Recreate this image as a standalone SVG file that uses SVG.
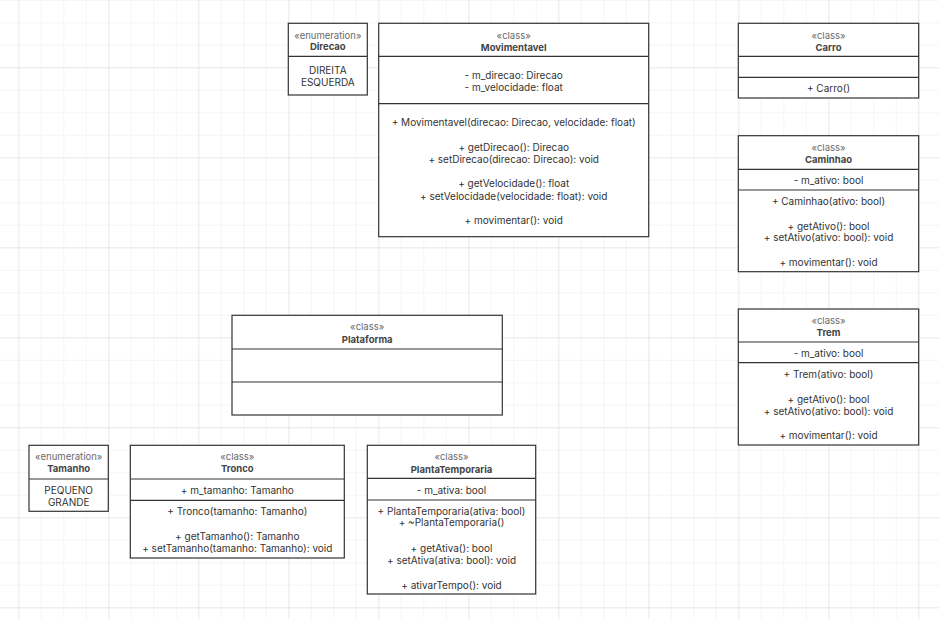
<svg xmlns="http://www.w3.org/2000/svg" width="939" height="619" viewBox="0 0 939 619">
<defs>
<pattern id="gmin" x="18.3" y="22.3" width="22.5" height="22.5" patternUnits="userSpaceOnUse">
<path d="M0 0V22.5M0 0H22.5" fill="none" stroke="#ececec" stroke-width="1"/>
</pattern>
<pattern id="gmaj" x="18.3" y="67.3" width="90" height="90" patternUnits="userSpaceOnUse">
<path d="M0 0V90M0 0H90" fill="none" stroke="#dedede" stroke-width="1"/>
</pattern>
</defs>
<style>
.box{fill:#fff;stroke:#333;stroke-width:1.2}
.div{stroke:#333;stroke-width:1.2}
text{font-family:Inter,"Liberation Sans",sans-serif;text-anchor:middle;dominant-baseline:central}
.st{font-size:9.5px;fill:#6a6a6a}
.nm{font-size:9.5px;font-weight:bold;fill:#444}
.tx{font-size:10px;fill:#333}
</style>
<rect width="939" height="619" fill="#fff"/>
<rect width="939" height="619" fill="url(#gmin)"/>
<rect width="939" height="619" fill="url(#gmaj)"/>

<g id="connectors"></g>

<g id="Direcao">
<rect class="box" x="288.3" y="23.3" width="79" height="71.7"/>
<line class="div" x1="288.3" y1="56.3" x2="367.3" y2="56.3"/>
<text class="st" x="327.8" y="35">«enumeration»</text>
<text class="nm" x="327.8" y="46.7">Direcao</text>
<text class="tx" x="327.8" y="69.5">DIREITA</text>
<text class="tx" x="327.8" y="81.8">ESQUERDA</text>
</g>

<g id="Movimentavel">
<rect class="box" x="378.7" y="23.3" width="270" height="213.4"/>
<line class="div" x1="378.7" y1="56.3" x2="648.7" y2="56.3"/>
<line class="div" x1="378.7" y1="103.7" x2="648.7" y2="103.7"/>
<text class="st" x="513.7" y="35">«class»</text>
<text class="nm" x="513.7" y="47">Movimentavel</text>
<text class="tx" x="513.7" y="74.5">- m_direcao: Direcao</text>
<text class="tx" x="513.7" y="86.5">- m_velocidade: float</text>
<text class="tx" x="513.7" y="122.3">+ Movimentavel(direcao: Direcao, velocidade: float)</text>
<text class="tx" x="513.7" y="146.7">+ getDirecao(): Direcao</text>
<text class="tx" x="513.7" y="159">+ setDirecao(direcao: Direcao): void</text>
<text class="tx" x="513.7" y="183">+ getVelocidade(): float</text>
<text class="tx" x="513.7" y="195.5">+ setVelocidade(velocidade: float): void</text>
<text class="tx" x="513.7" y="219.5">+ movimentar(): void</text>
</g>

<g id="Carro">
<rect class="box" x="738.3" y="23.3" width="180.4" height="74.7"/>
<line class="div" x1="738.3" y1="56.3" x2="918.7" y2="56.3"/>
<line class="div" x1="738.3" y1="77.3" x2="918.7" y2="77.3"/>
<text class="st" x="828.5" y="35">«class»</text>
<text class="nm" x="828.5" y="47">Carro</text>
<text class="tx" x="828.5" y="88">+ Carro()</text>
</g>

<g id="Caminhao">
<rect class="box" x="738.3" y="135.7" width="180.4" height="136"/>
<line class="div" x1="738.3" y1="169.3" x2="918.7" y2="169.3"/>
<line class="div" x1="738.3" y1="190" x2="918.7" y2="190"/>
<text class="st" x="828.5" y="147.3">«class»</text>
<text class="nm" x="828.5" y="159.3">Caminhao</text>
<text class="tx" x="828.5" y="179.5">- m_ativo: bool</text>
<text class="tx" x="828.5" y="200.7">+ Caminhao(ativo: bool)</text>
<text class="tx" x="828.5" y="225.5">+ getAtivo(): bool</text>
<text class="tx" x="828.5" y="237.3">+ setAtivo(ativo: bool): void</text>
<text class="tx" x="828.5" y="262">+ movimentar(): void</text>
</g>

<g id="Trem">
<rect class="box" x="738.3" y="309" width="180.4" height="136"/>
<line class="div" x1="738.3" y1="342" x2="918.7" y2="342"/>
<line class="div" x1="738.3" y1="362.7" x2="918.7" y2="362.7"/>
<text class="st" x="828.5" y="320.3">«class»</text>
<text class="nm" x="828.5" y="332.3">Trem</text>
<text class="tx" x="828.5" y="352.5">- m_ativo: bool</text>
<text class="tx" x="828.5" y="373.5">+ Trem(ativo: bool)</text>
<text class="tx" x="828.5" y="398.7">+ getAtivo(): bool</text>
<text class="tx" x="828.5" y="410.5">+ setAtivo(ativo: bool): void</text>
<text class="tx" x="828.5" y="435.3">+ movimentar(): void</text>
</g>

<g id="Plataforma">
<rect class="box" x="232" y="315.3" width="270.3" height="99.7"/>
<line class="div" x1="232" y1="349" x2="502.3" y2="349"/>
<line class="div" x1="232" y1="382" x2="502.3" y2="382"/>
<text class="st" x="367.2" y="326.7">«class»</text>
<text class="nm" x="367.2" y="339">Plataforma</text>
</g>

<g id="Tamanho">
<rect class="box" x="29" y="445.3" width="79.3" height="66"/>
<line class="div" x1="29" y1="479" x2="108.3" y2="479"/>
<text class="st" x="68.7" y="456">«enumeration»</text>
<text class="nm" x="68.7" y="468.7">Tamanho</text>
<text class="tx" x="68.7" y="489.5">PEQUENO</text>
<text class="tx" x="68.7" y="501.7">GRANDE</text>
</g>

<g id="Tronco">
<rect class="box" x="130.3" y="445.3" width="214" height="112.7"/>
<line class="div" x1="130.3" y1="479" x2="344.3" y2="479"/>
<line class="div" x1="130.3" y1="500.3" x2="344.3" y2="500.3"/>
<text class="st" x="237.3" y="456">«class»</text>
<text class="nm" x="237.3" y="468.7">Tronco</text>
<text class="tx" x="237.3" y="490">+ m_tamanho: Tamanho</text>
<text class="tx" x="237.3" y="511">+ Tronco(tamanho: Tamanho)</text>
<text class="tx" x="237.3" y="535.7">+ getTamanho(): Tamanho</text>
<text class="tx" x="237.3" y="547.5">+ setTamanho(tamanho: Tamanho): void</text>
</g>

<g id="PlantaTemporaria">
<rect class="box" x="367.3" y="445.3" width="168.4" height="148.7"/>
<line class="div" x1="367.3" y1="478.3" x2="535.7" y2="478.3"/>
<line class="div" x1="367.3" y1="500" x2="535.7" y2="500"/>
<text class="st" x="451.5" y="456">«class»</text>
<text class="nm" x="451.5" y="469">PlantaTemporaria</text>
<text class="tx" x="451.5" y="490">- m_ativa: bool</text>
<text class="tx" x="451.5" y="510.7">+ PlantaTemporaria(ativa: bool)</text>
<text class="tx" x="451.5" y="522.3">+ ~PlantaTemporaria()</text>
<text class="tx" x="451.5" y="548">+ getAtiva(): bool</text>
<text class="tx" x="451.5" y="559.5">+ setAtiva(ativa: bool): void</text>
<text class="tx" x="451.5" y="585">+ ativarTempo(): void</text>
</g>
</svg>
